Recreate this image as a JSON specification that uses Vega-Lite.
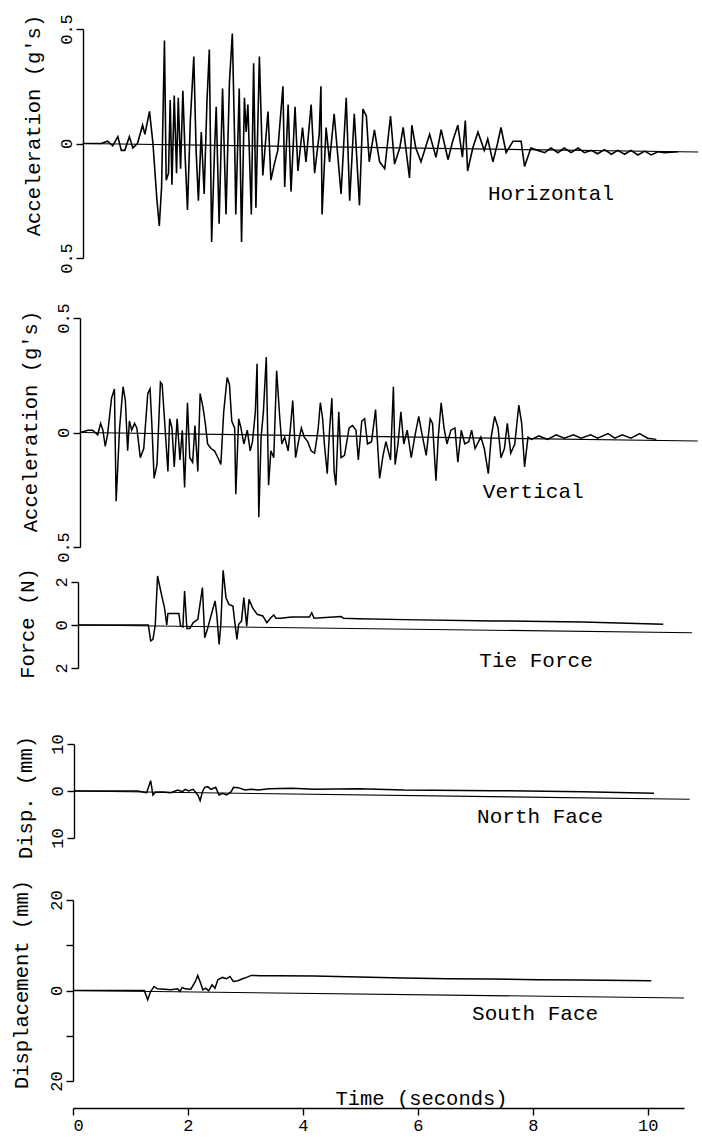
{
 "$schema": "https://vega.github.io/schema/vega-lite/v6.json",
 "autosize": {"type": "pad"},
 "padding": {"left": 10, "top": 13, "right": 5, "bottom": 5},
 "background": "white",
 "spacing": 0,
 "bounds": "flush",
 "config": {
  "view": {"stroke": null},
  "font": "Liberation Mono",
  "axis": {"domainColor": "black", "tickColor": "black", "labelColor": "black", "titleColor": "black", "labelFont": "Liberation Mono", "titleFont": "Liberation Mono", "titleFontWeight": "normal", "grid": false, "domainWidth": 1.4, "tickWidth": 1.4, "labelFontSize": 17, "titleFontSize": 20.5},
  "line": {"color": "black"},
  "text": {"font": "Liberation Mono", "fontSize": 21, "color": "black"}
 },
 "datasets": {
  "H": [{"t":0.17,"v":0},{"t":0.49,"v":0},{"t":0.6,"v":0.01},{"t":0.69,"v":-0.01},{"t":0.78,"v":0.03},{"t":0.84,"v":-0.03},{"t":0.9,"v":-0.03},{"t":0.98,"v":0.03},{"t":1.04,"v":-0.02},{"t":1.12,"v":0},{"t":1.21,"v":0.08},{"t":1.25,"v":0.04},{"t":1.33,"v":0.14},{"t":1.39,"v":0},{"t":1.46,"v":-0.25},{"t":1.5,"v":-0.36},{"t":1.54,"v":-0.19},{"t":1.59,"v":0.45},{"t":1.62,"v":-0.16},{"t":1.66,"v":-0.13},{"t":1.69,"v":0.19},{"t":1.72,"v":-0.18},{"t":1.76,"v":0.21},{"t":1.8,"v":-0.13},{"t":1.83,"v":0.2},{"t":1.87,"v":-0.11},{"t":1.91,"v":0.23},{"t":1.95,"v":-0.06},{"t":1.99,"v":-0.29},{"t":2.04,"v":0.1},{"t":2.1,"v":0.38},{"t":2.14,"v":-0.03},{"t":2.18,"v":-0.25},{"t":2.23,"v":0.05},{"t":2.28,"v":-0.22},{"t":2.33,"v":0.19},{"t":2.37,"v":0.41},{"t":2.41,"v":-0.43},{"t":2.46,"v":-0.03},{"t":2.49,"v":0.16},{"t":2.54,"v":-0.35},{"t":2.6,"v":0.24},{"t":2.66,"v":-0.31},{"t":2.72,"v":0.27},{"t":2.77,"v":0.48},{"t":2.81,"v":0.01},{"t":2.83,"v":-0.31},{"t":2.89,"v":0.24},{"t":2.93,"v":-0.43},{"t":2.98,"v":0.2},{"t":3.01,"v":0.05},{"t":3.04,"v":0.17},{"t":3.1,"v":-0.31},{"t":3.14,"v":0.35},{"t":3.18,"v":-0.28},{"t":3.24,"v":0.38},{"t":3.3,"v":-0.14},{"t":3.39,"v":0.14},{"t":3.44,"v":-0.16},{"t":3.5,"v":-0.09},{"t":3.56,"v":-0.03},{"t":3.65,"v":0.25},{"t":3.68,"v":-0.19},{"t":3.74,"v":0.17},{"t":3.79,"v":-0.21},{"t":3.86,"v":0.16},{"t":3.91,"v":-0.12},{"t":3.99,"v":0.07},{"t":4.05,"v":-0.08},{"t":4.14,"v":0.17},{"t":4.2,"v":-0.13},{"t":4.28,"v":0.04},{"t":4.31,"v":0.25},{"t":4.33,"v":-0.31},{"t":4.4,"v":0.07},{"t":4.46,"v":-0.08},{"t":4.54,"v":0.13},{"t":4.66,"v":-0.22},{"t":4.75,"v":0.2},{"t":4.81,"v":-0.25},{"t":4.89,"v":0.13},{"t":4.98,"v":-0.27},{"t":5.04,"v":0.15},{"t":5.1,"v":0.12},{"t":5.15,"v":-0.08},{"t":5.24,"v":0.06},{"t":5.33,"v":-0.08},{"t":5.42,"v":-0.11},{"t":5.52,"v":0.12},{"t":5.59,"v":-0.09},{"t":5.68,"v":-0.02},{"t":5.74,"v":0.07},{"t":5.85,"v":-0.15},{"t":5.89,"v":0.08},{"t":5.96,"v":-0.02},{"t":6.05,"v":-0.08},{"t":6.2,"v":0.04},{"t":6.31,"v":-0.06},{"t":6.4,"v":0.06},{"t":6.52,"v":-0.07},{"t":6.6,"v":0.01},{"t":6.69,"v":0.08},{"t":6.77,"v":-0.06},{"t":6.82,"v":0.1},{"t":6.86,"v":-0.12},{"t":6.95,"v":-0.02},{"t":7.04,"v":0.05},{"t":7.15,"v":-0.03},{"t":7.21,"v":0.02},{"t":7.3,"v":-0.08},{"t":7.38,"v":0},{"t":7.44,"v":0.07},{"t":7.53,"v":-0.04},{"t":7.65,"v":0.01},{"t":7.79,"v":0.01},{"t":7.85,"v":-0.1},{"t":7.96,"v":-0.02},{"t":8.08,"v":-0.03},{"t":8.2,"v":-0.04},{"t":8.31,"v":-0.02},{"t":8.43,"v":-0.04},{"t":8.54,"v":-0.02},{"t":8.66,"v":-0.04},{"t":8.78,"v":-0.02},{"t":8.89,"v":-0.04},{"t":9.01,"v":-0.03},{"t":9.12,"v":-0.045},{"t":9.24,"v":-0.027},{"t":9.36,"v":-0.047},{"t":9.47,"v":-0.03},{"t":9.59,"v":-0.047},{"t":9.7,"v":-0.03},{"t":9.82,"v":-0.05},{"t":9.94,"v":-0.033},{"t":10.05,"v":-0.05},{"t":10.17,"v":-0.036},{"t":10.28,"v":-0.04},{"t":10.52,"v":-0.036}],
  "Hb": [{"t":0.17,"v":0},{"t":10.87,"v":-0.037}],
  "V": [{"t":0.13,"v":0},{"t":0.26,"v":0.01},{"t":0.34,"v":0.01},{"t":0.43,"v":-0.01},{"t":0.48,"v":0.04},{"t":0.52,"v":0.01},{"t":0.56,"v":-0.06},{"t":0.6,"v":-0.01},{"t":0.67,"v":0.15},{"t":0.72,"v":0.19},{"t":0.75,"v":-0.3},{"t":0.81,"v":0.02},{"t":0.87,"v":0.2},{"t":0.91,"v":0.14},{"t":0.95,"v":-0.08},{"t":0.98,"v":0.05},{"t":1.02,"v":0.01},{"t":1.07,"v":0.04},{"t":1.11,"v":0.02},{"t":1.17,"v":-0.11},{"t":1.23,"v":-0.07},{"t":1.3,"v":0.17},{"t":1.34,"v":0.19},{"t":1.37,"v":0.04},{"t":1.41,"v":-0.2},{"t":1.46,"v":-0.14},{"t":1.52,"v":0.22},{"t":1.55,"v":0.21},{"t":1.59,"v":0.06},{"t":1.65,"v":-0.17},{"t":1.68,"v":0.06},{"t":1.72,"v":0.02},{"t":1.76,"v":-0.15},{"t":1.81,"v":0.06},{"t":1.86,"v":-0.12},{"t":1.9,"v":0.01},{"t":1.94,"v":-0.24},{"t":1.99,"v":0.13},{"t":2.03,"v":-0.11},{"t":2.08,"v":-0.13},{"t":2.12,"v":0.03},{"t":2.17,"v":-0.17},{"t":2.21,"v":0.17},{"t":2.26,"v":0.11},{"t":2.3,"v":0.04},{"t":2.34,"v":-0.05},{"t":2.4,"v":-0.07},{"t":2.46,"v":-0.08},{"t":2.52,"v":-0.11},{"t":2.57,"v":-0.14},{"t":2.62,"v":0.09},{"t":2.68,"v":0.24},{"t":2.72,"v":0.21},{"t":2.76,"v":0.05},{"t":2.81,"v":0.02},{"t":2.83,"v":-0.27},{"t":2.88,"v":0.06},{"t":2.92,"v":0.02},{"t":2.97,"v":-0.05},{"t":3.03,"v":0.01},{"t":3.08,"v":-0.08},{"t":3.12,"v":-0.04},{"t":3.17,"v":0.09},{"t":3.2,"v":0.3},{"t":3.23,"v":-0.37},{"t":3.27,"v":-0.02},{"t":3.31,"v":0.09},{"t":3.36,"v":0.33},{"t":3.4,"v":-0.23},{"t":3.44,"v":-0.08},{"t":3.49,"v":-0.11},{"t":3.54,"v":0.27},{"t":3.59,"v":0.08},{"t":3.63,"v":-0.05},{"t":3.68,"v":-0.02},{"t":3.74,"v":-0.08},{"t":3.78,"v":0.02},{"t":3.82,"v":0.14},{"t":3.87,"v":-0.11},{"t":3.92,"v":-0.04},{"t":3.97,"v":0.02},{"t":4.02,"v":-0.02},{"t":4.08,"v":-0.04},{"t":4.14,"v":-0.08},{"t":4.2,"v":-0.09},{"t":4.26,"v":0.01},{"t":4.3,"v":0.13},{"t":4.34,"v":0.06},{"t":4.37,"v":-0.05},{"t":4.42,"v":-0.18},{"t":4.46,"v":0.01},{"t":4.5,"v":0.15},{"t":4.54,"v":-0.17},{"t":4.57,"v":-0.23},{"t":4.62,"v":0.09},{"t":4.66,"v":-0.11},{"t":4.72,"v":-0.1},{"t":4.8,"v":0.02},{"t":4.86,"v":0.03},{"t":4.92,"v":0.01},{"t":4.96,"v":-0.12},{"t":5.02,"v":0.05},{"t":5.07,"v":0.06},{"t":5.12,"v":-0.05},{"t":5.19,"v":-0.04},{"t":5.26,"v":0.1},{"t":5.33,"v":-0.2},{"t":5.39,"v":-0.1},{"t":5.44,"v":-0.04},{"t":5.52,"v":-0.12},{"t":5.57,"v":0.2},{"t":5.6,"v":-0.14},{"t":5.65,"v":-0.05},{"t":5.7,"v":0.09},{"t":5.75,"v":-0.05},{"t":5.81,"v":0.01},{"t":5.88,"v":-0.11},{"t":5.94,"v":-0.02},{"t":6.01,"v":0.07},{"t":6.07,"v":-0.01},{"t":6.14,"v":-0.1},{"t":6.21,"v":0.06},{"t":6.25,"v":0.04},{"t":6.31,"v":-0.21},{"t":6.35,"v":-0.02},{"t":6.4,"v":0.13},{"t":6.45,"v":0.02},{"t":6.5,"v":-0.05},{"t":6.57,"v":0.01},{"t":6.64,"v":0.02},{"t":6.69,"v":-0.13},{"t":6.75,"v":0.01},{"t":6.81,"v":-0.05},{"t":6.88,"v":-0.04},{"t":6.93,"v":0.01},{"t":6.99,"v":-0.07},{"t":7.09,"v":-0.02},{"t":7.15,"v":-0.07},{"t":7.22,"v":-0.18},{"t":7.27,"v":-0.02},{"t":7.33,"v":0.07},{"t":7.39,"v":0.02},{"t":7.44,"v":-0.11},{"t":7.5,"v":-0.07},{"t":7.55,"v":0.04},{"t":7.61,"v":-0.09},{"t":7.68,"v":-0.05},{"t":7.75,"v":0.12},{"t":7.8,"v":0.04},{"t":7.85,"v":-0.15},{"t":7.91,"v":-0.02},{"t":7.97,"v":-0.03},{"t":8.1,"v":-0.015},{"t":8.25,"v":-0.03},{"t":8.4,"v":-0.01},{"t":8.54,"v":-0.025},{"t":8.7,"v":-0.01},{"t":8.83,"v":-0.025},{"t":9.0,"v":-0.01},{"t":9.12,"v":-0.025},{"t":9.3,"v":-0.005},{"t":9.42,"v":-0.025},{"t":9.55,"v":-0.01},{"t":9.7,"v":-0.025},{"t":9.85,"v":-0.005},{"t":9.99,"v":-0.025},{"t":10.14,"v":-0.03}],
  "Vb": [{"t":0.12,"v":0},{"t":10.86,"v":-0.037}],
  "F": [{"t":0.09,"v":0},{"t":1.31,"v":0},{"t":1.35,"v":-0.74},{"t":1.39,"v":-0.67},{"t":1.43,"v":0},{"t":1.47,"v":2.28},{"t":1.55,"v":1.27},{"t":1.59,"v":0.81},{"t":1.63,"v":0},{"t":1.65,"v":0.53},{"t":1.84,"v":0.53},{"t":1.87,"v":-0.05},{"t":1.91,"v":-0.09},{"t":1.94,"v":1.58},{"t":1.98,"v":-0.16},{"t":2.03,"v":-0.16},{"t":2.09,"v":0.11},{"t":2.17,"v":0.26},{"t":2.25,"v":1.74},{"t":2.29,"v":-0.59},{"t":2.34,"v":-0.16},{"t":2.39,"v":0.34},{"t":2.47,"v":1.12},{"t":2.5,"v":0.47},{"t":2.54,"v":-0.9},{"t":2.57,"v":0.03},{"t":2.61,"v":2.54},{"t":2.66,"v":1.27},{"t":2.71,"v":0.96},{"t":2.78,"v":0.88},{"t":2.81,"v":0.19},{"t":2.85,"v":-0.67},{"t":2.88,"v":0.03},{"t":2.93,"v":0.19},{"t":2.97,"v":1.27},{"t":3.02,"v":-0.05},{"t":3.06,"v":1.19},{"t":3.12,"v":0.81},{"t":3.2,"v":0.5},{"t":3.3,"v":0.42},{"t":3.37,"v":0.11},{"t":3.44,"v":0.34},{"t":3.49,"v":0.47},{"t":3.53,"v":0.31},{"t":3.61,"v":0.31},{"t":3.8,"v":0.37},{"t":4.11,"v":0.37},{"t":4.15,"v":0.57},{"t":4.19,"v":0.31},{"t":4.66,"v":0.4},{"t":4.7,"v":0.31},{"t":4.97,"v":0.29},{"t":5.75,"v":0.25},{"t":7.3,"v":0.19},{"t":8.86,"v":0.14},{"t":10.26,"v":0.03}],
  "Fb": [{"t":0.09,"v":0},{"t":10.76,"v":-0.36}],
  "N": [{"t":0.02,"v":0},{"t":1.12,"v":0},{"t":1.28,"v":-0.35},{"t":1.35,"v":2.2},{"t":1.39,"v":-0.85},{"t":1.43,"v":-0.28},{"t":1.55,"v":-0.21},{"t":1.7,"v":-0.35},{"t":1.82,"v":0.21},{"t":1.9,"v":-0.14},{"t":1.95,"v":0.35},{"t":2.01,"v":0},{"t":2.09,"v":0.35},{"t":2.17,"v":-0.85},{"t":2.21,"v":-2.06},{"t":2.25,"v":-0.14},{"t":2.29,"v":0.78},{"t":2.34,"v":0.92},{"t":2.4,"v":0.35},{"t":2.48,"v":0.78},{"t":2.54,"v":-0.85},{"t":2.6,"v":-0.5},{"t":2.67,"v":-0.85},{"t":2.75,"v":-0.14},{"t":2.79,"v":0.78},{"t":2.87,"v":0.71},{"t":2.99,"v":0.21},{"t":3.1,"v":0.35},{"t":3.22,"v":0.21},{"t":3.41,"v":0.5},{"t":3.8,"v":0.57},{"t":4.19,"v":0.35},{"t":4.97,"v":0.5},{"t":5.75,"v":0.21},{"t":7.3,"v":0.07},{"t":8.86,"v":-0.14},{"t":10.1,"v":-0.5}],
  "Nb": [{"t":0.02,"v":0},{"t":10.72,"v":-1.77}],
  "S": [{"t":0,"v":0},{"t":1.24,"v":0},{"t":1.3,"v":-2.07},{"t":1.35,"v":-0.22},{"t":1.41,"v":0.89},{"t":1.47,"v":0.37},{"t":1.59,"v":0.3},{"t":1.7,"v":0.15},{"t":1.82,"v":0.37},{"t":1.86,"v":-0.22},{"t":1.9,"v":0.67},{"t":1.95,"v":0.37},{"t":2.05,"v":0.3},{"t":2.13,"v":2.0},{"t":2.17,"v":3.33},{"t":2.22,"v":1.63},{"t":2.26,"v":0.15},{"t":2.31,"v":0.52},{"t":2.36,"v":-0.07},{"t":2.42,"v":1.26},{"t":2.47,"v":0.52},{"t":2.52,"v":2.37},{"t":2.6,"v":2.89},{"t":2.67,"v":2.59},{"t":2.73,"v":3.11},{"t":2.79,"v":2.0},{"t":2.87,"v":2.15},{"t":2.95,"v":2.59},{"t":3.02,"v":2.89},{"t":3.1,"v":3.33},{"t":3.26,"v":3.26},{"t":3.57,"v":3.26},{"t":4.19,"v":3.19},{"t":4.97,"v":2.96},{"t":5.75,"v":2.74},{"t":6.52,"v":2.59},{"t":7.3,"v":2.52},{"t":8.08,"v":2.37},{"t":8.86,"v":2.3},{"t":10.06,"v":2.15}],
  "Sb": [{"t":0,"v":0},{"t":10.63,"v":-1.65}]
 },
 "vconcat": [
  {
   "width": 627, "height": 289,
   "layer": [
    {"data": {"name": "Hb"}, "mark": {"type": "line", "strokeWidth": 1.1},
     "encoding": {
      "x": {"field": "t", "type": "quantitative", "scale": {"domain": [0, 10.9], "nice": false, "zero": false}, "axis": null},
      "y": {"field": "v", "type": "quantitative", "scale": {"domain": [-0.5, 0.5], "range": [229, 0], "nice": false, "zero": false},
        "axis": {"title": "Acceleration (g's)", "values": [-0.5, 0, 0.5], "labelExpr": "'' + abs(datum.value)", "offset": -10, "tickSize": 7, "labelAngle": -90, "labelAlign": "center", "labelBaseline": "bottom", "labelPadding": 1, "titleAngle": -90, "titleAlign": "center", "titleBaseline": "middle", "titleX": -50, "titleY": 96}}
     }},
    {"data": {"name": "H"}, "mark": {"type": "line", "strokeWidth": 1.6},
     "encoding": {"x": {"field": "t", "type": "quantitative"}, "y": {"field": "v", "type": "quantitative"}}},
    {"data": {"values": [{"label": "Horizontal", "t": 8.31, "v": -0.22}]}, "mark": {"type": "text", "baseline": "middle", "align": "center"},
     "encoding": {"x": {"field": "t", "type": "quantitative"}, "y": {"field": "v", "type": "quantitative"}, "text": {"field": "label"}}}
   ]
  },
  {
   "width": 627, "height": 264,
   "layer": [
    {"data": {"name": "Vb"}, "mark": {"type": "line", "strokeWidth": 1.1},
     "encoding": {
      "x": {"field": "t", "type": "quantitative", "scale": {"domain": [0, 10.9], "nice": false, "zero": false}, "axis": null},
      "y": {"field": "v", "type": "quantitative", "scale": {"domain": [-0.5, 0.5], "range": [229, 0], "nice": false, "zero": false},
        "axis": {"title": "Acceleration (g's)", "values": [-0.5, 0, 0.5], "labelExpr": "'' + abs(datum.value)", "offset": -7, "tickSize": 7, "labelAngle": -90, "labelAlign": "center", "labelBaseline": "bottom", "labelPadding": 1, "titleAngle": -90, "titleAlign": "center", "titleBaseline": "middle", "titleX": -50, "titleY": 103}}
     }},
    {"data": {"name": "V"}, "mark": {"type": "line", "strokeWidth": 1.5},
     "encoding": {"x": {"field": "t", "type": "quantitative"}, "y": {"field": "v", "type": "quantitative"}}},
    {"data": {"values": [{"label": "Vertical", "t": 8.0, "v": -0.26}]}, "mark": {"type": "text", "baseline": "middle", "align": "center"},
     "encoding": {"x": {"field": "t", "type": "quantitative"}, "y": {"field": "v", "type": "quantitative"}, "text": {"field": "label"}}}
   ]
  },
  {
   "width": 627, "height": 162,
   "layer": [
    {"data": {"name": "Fb"}, "mark": {"type": "line", "strokeWidth": 1.1},
     "encoding": {
      "x": {"field": "t", "type": "quantitative", "scale": {"domain": [0, 10.9], "nice": false, "zero": false}, "axis": null},
      "y": {"field": "v", "type": "quantitative", "scale": {"domain": [-2, 2], "range": [86, 0], "nice": false, "zero": false},
        "axis": {"title": "Force (N)", "values": [-2, 0, 2], "labelExpr": "'' + abs(datum.value)", "offset": -5, "tickSize": 7, "labelAngle": -90, "labelAlign": "center", "labelBaseline": "bottom", "labelPadding": 1, "titleAngle": -90, "titleAlign": "center", "titleBaseline": "middle", "titleX": -51, "titleY": 41}}
     }},
    {"data": {"name": "F"}, "mark": {"type": "line", "strokeWidth": 1.5},
     "encoding": {"x": {"field": "t", "type": "quantitative"}, "y": {"field": "v", "type": "quantitative"}}},
    {"data": {"values": [{"label": "Tie Force", "t": 8.05, "v": -1.67}]}, "mark": {"type": "text", "baseline": "middle", "align": "center"},
     "encoding": {"x": {"field": "t", "type": "quantitative"}, "y": {"field": "v", "type": "quantitative"}, "text": {"field": "label"}}}
   ]
  },
  {
   "width": 627, "height": 156,
   "layer": [
    {"data": {"name": "Nb"}, "mark": {"type": "line", "strokeWidth": 1.1},
     "encoding": {
      "x": {"field": "t", "type": "quantitative", "scale": {"domain": [0, 10.9], "nice": false, "zero": false}, "axis": null},
      "y": {"field": "v", "type": "quantitative", "scale": {"domain": [-10, 10], "range": [94, 0], "nice": false, "zero": false},
        "axis": {"title": "Disp. (mm)", "values": [-10, 0, 10], "labelExpr": "'' + abs(datum.value)", "offset": -1, "tickSize": 7, "labelAngle": -90, "labelAlign": "center", "labelBaseline": "bottom", "labelPadding": 1, "titleAngle": -90, "titleAlign": "center", "titleBaseline": "middle", "titleX": -49, "titleY": 53}}
     }},
    {"data": {"name": "N"}, "mark": {"type": "line", "strokeWidth": 1.5},
     "encoding": {"x": {"field": "t", "type": "quantitative"}, "y": {"field": "v", "type": "quantitative"}}},
    {"data": {"values": [{"label": "North Face", "t": 8.12, "v": -5.5}]}, "mark": {"type": "text", "baseline": "middle", "align": "center"},
     "encoding": {"x": {"field": "t", "type": "quantitative"}, "y": {"field": "v", "type": "quantitative"}, "text": {"field": "label"}}}
   ]
  },
  {
   "width": 611, "height": 181,
   "layer": [
    {"data": {"name": "Sb"}, "mark": {"type": "line", "strokeWidth": 1.1},
     "encoding": {
      "x": {"field": "t", "type": "quantitative", "scale": {"domain": [0, 10.63], "nice": false, "zero": false},
        "axis": {"title": "Time (seconds)", "values": [0, 2, 4, 6, 8, 10], "format": "d", "offset": 27, "tickSize": 7, "labelPadding": 2, "titleX": 348, "titleY": -4, "titleAlign": "center", "titleBaseline": "alphabetic", "titleAngle": 0}},
      "y": {"field": "v", "type": "quantitative", "scale": {"domain": [-20, 20], "nice": false, "zero": false},
        "axis": {"title": "Displacement (mm)", "values": [-20, -10, 0, 10, 20], "labelExpr": "abs(datum.value) == 10 ? '' : '' + abs(datum.value)", "offset": 0, "tickSize": 7, "labelAngle": -90, "labelAlign": "center", "labelBaseline": "bottom", "labelPadding": 1, "titleAngle": -90, "titleAlign": "center", "titleBaseline": "middle", "titleX": -52, "titleY": 84}}
     }},
    {"data": {"name": "S"}, "mark": {"type": "line", "strokeWidth": 1.5},
     "encoding": {"x": {"field": "t", "type": "quantitative"}, "y": {"field": "v", "type": "quantitative"}}},
    {"data": {"values": [{"label": "South Face", "t": 8.04, "v": -5.1}]}, "mark": {"type": "text", "baseline": "middle", "align": "center"},
     "encoding": {"x": {"field": "t", "type": "quantitative"}, "y": {"field": "v", "type": "quantitative"}, "text": {"field": "label"}}}
   ]
  }
 ]
}
